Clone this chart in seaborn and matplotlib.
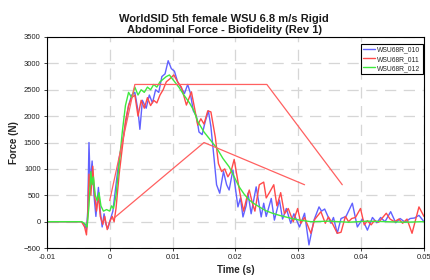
import numpy as np
import pandas as pd
import matplotlib
matplotlib.use("Agg")
import matplotlib.pyplot as plt
import seaborn as sns

# trace WSU68R_010 (blue)
t_010 = [-0.01, -0.0045, -0.004, -0.0037, -0.0035, -0.0033, -0.0031, -0.0028, -0.0025, -0.0022,
         -0.0018, -0.0015, -0.0012, -0.0009, -0.0006, -0.0003, 0.0, 0.0005, 0.001, 0.0015,
         0.002, 0.0025, 0.003, 0.0035, 0.004, 0.0045, 0.0048, 0.0052, 0.0058, 0.0063,
         0.0068, 0.0073, 0.0078, 0.0083, 0.0088, 0.0093, 0.0098, 0.0103, 0.0108, 0.0113,
         0.0119, 0.0124, 0.0128, 0.0133, 0.0138, 0.0142, 0.0147, 0.0152, 0.0157, 0.0161,
         0.0166, 0.017, 0.0175, 0.0181, 0.0186, 0.019, 0.0196, 0.0204, 0.0208, 0.0212,
         0.0217, 0.022, 0.0225, 0.0233, 0.0241, 0.0245, 0.0249, 0.0257, 0.0262, 0.027,
         0.0275, 0.0281, 0.0288, 0.0293, 0.0302, 0.031, 0.0317, 0.0325, 0.0333, 0.0337,
         0.0342, 0.0352, 0.0356, 0.0362, 0.0368, 0.0376, 0.0386, 0.0394, 0.0402, 0.041,
         0.0418, 0.0425, 0.0431, 0.0438, 0.0447, 0.0455, 0.0462, 0.047, 0.0478, 0.0485,
         0.0492, 0.05]
f_010 = [0, 0, -50, -150, 200, 1500, 700, 1150, 500, 100,
         650, 200, -100, 150, -50, -130, 0, 200, 700, 1200,
         1500, 1850, 2200, 2400, 2450, 2100, 1750, 2300, 2150, 2400,
         2250, 2500, 2450, 2750, 2800, 3050, 2900, 2850, 2650, 2550,
         2430, 2600, 2450, 2100, 2000, 1700, 1650, 1900, 2100, 1800,
         1200, 700, 540, 950, 700, 600, 980, 280, 450, 90,
         300, 540, 150, 660, 90, 350, 100, 440, 30, 410,
         50, 250, -30, 150, -100, 160, -440, 30, 280, 200,
         240, -30, 80, -220, 60, 100, 350, -100, 50, -160,
         80, -20, 80, 0, 190, -20, 60, -10, 60, 70,
         120, 0]

# trace WSU68R_011 (red)
t_011 = [-0.01, -0.0045, -0.004, -0.0037, -0.0035, -0.0033, -0.003, -0.0027, -0.0024, -0.0021,
         -0.0018, -0.0015, -0.0011, -0.0008, -0.0004, 0.0, 0.0004, 0.0007, 0.001, 0.0015,
         0.002, 0.0025, 0.003, 0.0035, 0.004, 0.0045, 0.005, 0.0055, 0.006, 0.0065,
         0.007, 0.0075, 0.008, 0.0085, 0.009, 0.0095, 0.0102, 0.0108, 0.0114, 0.0122,
         0.013, 0.0135, 0.014, 0.0145, 0.015, 0.0156, 0.0161, 0.0168, 0.0173, 0.0178,
         0.0183, 0.0188, 0.0193, 0.0198, 0.0202, 0.0207, 0.0213, 0.0218, 0.0222, 0.0227,
         0.0231, 0.0238, 0.0245, 0.0249, 0.0254, 0.0261, 0.0266, 0.0272, 0.0278, 0.0284,
         0.0292, 0.0299, 0.0304, 0.031, 0.032, 0.0326, 0.0336, 0.0343, 0.0348, 0.0355,
         0.0362, 0.0368, 0.0375, 0.038, 0.0385, 0.0391, 0.0399, 0.0405, 0.041, 0.0416,
         0.0421, 0.0428, 0.044, 0.0446, 0.0453, 0.046, 0.0466, 0.0473, 0.0481, 0.0492,
         0.05]
f_011 = [0, 0, -100, -250, 100, 900, 500, 1050, 500, 200,
         500, 100, -50, 100, -150, 0, 100, 0, 250, 900,
         1400, 1900, 2200, 2350, 2400, 2000, 2300, 2150, 2350, 2200,
         2300, 2250, 2400, 2500, 2650, 2700, 2780, 2650, 2550, 2210,
         2460, 2150, 1830, 1950, 1850, 2100, 2080, 1600, 1100, 950,
         1000, 850, 950, 1180, 900, 550, 200, 450, 600, 350,
         200, 700, 750, 450, 550, 700, 300, 550, 150, 250,
         0, 250, -30, 80, -220, 40, 190, -30, 90, -50,
         -220, -200, 100, 0, 60, 80, 250, -60, 20, -60,
         20, -10, 160, 50, 0, 50, -30, 50, -220, 280,
         100]

# trace WSU68R_012 (green)
t_012 = [-0.01, -0.0045, -0.004, -0.0036, -0.0033, -0.003, -0.0028, -0.0026, -0.0023, -0.002,
         -0.0017, -0.0014, -0.001, -0.0005, 0.0, 0.0003, 0.0006, 0.001, 0.0015, 0.002,
         0.0025, 0.003, 0.0035, 0.004, 0.0045, 0.005, 0.0055, 0.006, 0.0065, 0.007,
         0.0075, 0.008, 0.0085, 0.009, 0.0095, 0.01, 0.011, 0.0118, 0.0127, 0.0134,
         0.014, 0.015, 0.016, 0.017, 0.018, 0.019, 0.0198, 0.0206, 0.0214, 0.0222,
         0.023, 0.0238, 0.0248, 0.0259, 0.027, 0.028, 0.029, 0.0302, 0.032, 0.035,
         0.038, 0.041, 0.044, 0.047, 0.05]
f_012 = [0, 0, -30, -100, 300, 950, 700, 850, 500, 400,
         550, 300, 200, 230, 200, 300, 250, 500, 1100, 1700,
         2200, 2450, 2350, 2550, 2400, 2500, 2450, 2550, 2500, 2600,
         2550, 2650, 2700, 2750, 2780, 2700, 2550, 2400, 2250, 2100,
         1900, 1700, 1550, 1400, 1200, 1040, 850, 660, 520, 410,
         340, 280, 210, 160, 120, 90, 60, 30, 0, 10,
         -10, 10, 0, -10, 0]

# biofidelity corridors
upper_t = [0.0, 0.004, 0.025, 0.037]
upper_f = [400, 2600, 2600, 700]
lower_t = [0.0005, 0.015, 0.031]
lower_f = [50, 1500, 700]

series_names = ["WSU68R_010", "WSU68R_011", "WSU68R_012"]
series_colors = ["#6161ff", "#ff4a4a", "#3ee83e"]

frames = []
for name, t, f in zip(series_names, [t_010, t_011, t_012], [f_010, f_011, f_012]):
    frames.append(pd.DataFrame({"Time (s)": t, "Force (N)": f, "test": name}))
df = pd.concat(frames, ignore_index=True)

sns.set_style("white")
plt.rcParams['font.family'] = ['Liberation Sans', 'DejaVu Sans']

fig = plt.figure(figsize=(4.3, 2.8), dpi=100)
ax = fig.add_axes([0.109, 0.114, 0.877, 0.754])

ax.grid(True, color="#d6d6d6", linestyle=(0, (9, 6)), linewidth=0.9)
ax.set_axisbelow(True)

sns.lineplot(data=df, x="Time (s)", y="Force (N)", hue="test", palette=series_colors,
             estimator=None, sort=False, linewidth=1.0, ax=ax)
ax.plot(upper_t, upper_f, color="#ff6060", linewidth=0.9)
ax.plot(lower_t, lower_f, color="#ff6060", linewidth=0.9)

ax.set_xlim(-0.01, 0.05)
ax.set_ylim(-500, 3500)
ax.set_xticks([-0.01, 0, 0.01, 0.02, 0.03, 0.04, 0.05])
ax.set_xticklabels(["-0.01", "0", "0.01", "0.02", "0.03", "0.04", "0.05"])
ax.set_yticks(range(-500, 3501, 500))
ax.tick_params(labelsize=5.5, length=2.5, width=0.6, pad=2, direction="out",
               bottom=True, left=True, labelcolor="#222222")
for s in ax.spines.values():
    s.set_color("black")
    s.set_linewidth(0.8)

ax.set_xlabel("Time (s)", fontsize=7, fontweight="bold", labelpad=3)
ax.set_ylabel("Force (N)", fontsize=7, fontweight="bold", labelpad=3)
ax.set_title("WorldSID 5th female WSU 6.8 m/s Rigid\nAbdominal Force - Biofidelity (Rev 1)",
             fontsize=8, fontweight="bold", pad=3, linespacing=1.1, x=0.47,
             color="#1a1a1a")

leg = ax.legend(loc="upper right", fontsize=4.9, frameon=True, fancybox=False,
                framealpha=1, edgecolor="black", handlelength=1.7, handletextpad=0.4,
                borderpad=0.35, labelspacing=0.3, borderaxespad=0.0,
                bbox_to_anchor=(0.997, 0.965))
leg.get_frame().set_linewidth(0.8)

fig.savefig("out.png", dpi=100)
